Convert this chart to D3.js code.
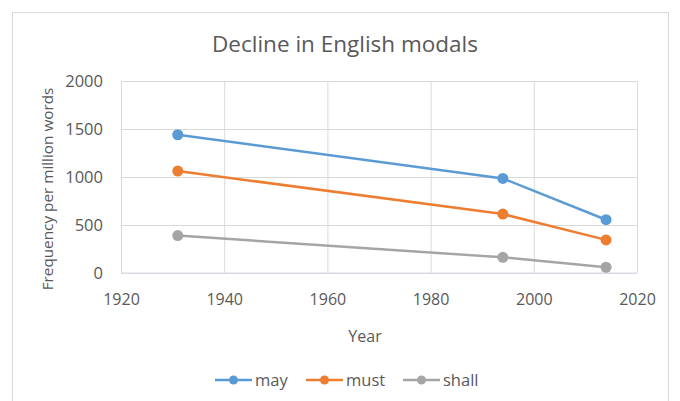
<!DOCTYPE html>
<html>
<head>
<meta charset="utf-8">
<script src="https://cdn.jsdelivr.net/npm/d3@7"></script>
<style>
  body { margin: 0; background: #fff; }
  text { font-family: "Open Sans", "Noto Sans", sans-serif; fill: #595959; }
</style>
</head>
<body>
<svg id="chart" width="680" height="401"></svg>
<script>
/* DATA */
const years = [1931, 1994, 2014];
const mayValues = [1440, 985, 555];
const mustValues = [1062, 614, 345];
const shallValues = [390, 163, 60];
const seriesNames = ["may", "must", "shall"];
const seriesColors = ["#5b9bd5", "#ed7d31", "#a5a5a5"];
const xTicks = [1920, 1940, 1960, 1980, 2000, 2020];
const yTicks = [0, 500, 1000, 1500, 2000];

const series = [mayValues, mustValues, shallValues].map((vals, i) => ({
  name: seriesNames[i],
  color: seriesColors[i],
  points: vals.map((v, j) => ({ year: years[j], value: v }))
}));

const margin = { top: 81, right: 43, bottom: 128, left: 121 };
const width = 680, height = 401;
const plotWidth = width - margin.left - margin.right;
const plotHeight = height - margin.top - margin.bottom;

const svg = d3.select("svg#chart");

// chart border
svg.append("rect")
  .attr("x", 12.5).attr("y", 12.5)
  .attr("width", 656).attr("height", 400)
  .attr("fill", "none").attr("stroke", "#d9d9d9");

const plotArea = svg.append("g")
  .attr("transform", "translate(" + margin.left + "," + margin.top + ")");

/* SCALES */
const xScale = d3.scaleLinear().domain([1920, 2020]).range([0, plotWidth]);
const yScale = d3.scaleLinear().domain([0, 2000]).range([plotHeight, 0]);

/* GRID */
const xGrid = d3.axisBottom(xScale).tickValues(xTicks).tickSize(-plotHeight).tickFormat("");
const yGrid = d3.axisLeft(yScale).tickValues(yTicks).tickSize(-plotWidth).tickFormat("");

plotArea.append("g").attr("transform", "translate(0," + plotHeight + ")").call(xGrid)
  .call(g => g.select(".domain").remove())
  .call(g => g.selectAll("line").attr("stroke", "#d9d9d9"));
plotArea.append("g").call(yGrid)
  .call(g => g.select(".domain").remove())
  .call(g => g.selectAll("line").attr("stroke", "#d9d9d9"));

// bottom axis line
plotArea.append("line")
  .attr("x1", 0).attr("x2", plotWidth)
  .attr("y1", plotHeight).attr("y2", plotHeight)
  .attr("stroke", "#d5dde8");

/* AXES LABELS */
const xAxis = d3.axisBottom(xScale).tickValues(xTicks).tickSize(0).tickPadding(21).tickFormat(d3.format("d"));
const yAxis = d3.axisLeft(yScale).tickValues(yTicks).tickSize(0).tickPadding(18).tickFormat(d3.format("d"));

plotArea.append("g").attr("transform", "translate(0," + plotHeight + ")").call(xAxis)
  .call(g => g.select(".domain").remove())
  .selectAll("text").attr("font-size", 16).attr("fill", "#595959")
  .attr("font-family", "Open Sans");
plotArea.append("g").call(yAxis)
  .call(g => g.select(".domain").remove())
  .selectAll("text").attr("font-size", 16.5).attr("fill", "#595959")
  .attr("font-family", "Open Sans");

/* TITLES */
svg.append("text")
  .attr("x", 345).attr("y", 52)
  .attr("text-anchor", "middle")
  .attr("font-size", 22.5)
  .text("Decline in English modals");

svg.append("text")
  .attr("x", 365).attr("y", 342)
  .attr("text-anchor", "middle")
  .attr("font-size", 16)
  .text("Year");

svg.append("g")
  .attr("transform", "translate(53," + (margin.top + plotHeight / 2 + 12) + ")")
  .append("text")
  .attr("transform", "rotate(-90)")
  .attr("text-anchor", "middle")
  .attr("font-size", 15.3)
  .text("Frequency per million words");

/* LINES */
const line = d3.line().x(d => xScale(d.year)).y(d => yScale(d.value));

const seriesGroups = plotArea.selectAll(".series")
  .data(series)
  .join("g").attr("class", "series");

seriesGroups.append("path")
  .attr("d", d => line(d.points))
  .attr("fill", "none")
  .attr("stroke", d => d.color)
  .attr("stroke-width", 2.5);

seriesGroups.selectAll("circle")
  .data(d => d.points.map(p => ({ ...p, color: d.color })))
  .join("circle")
  .attr("cx", d => xScale(d.year))
  .attr("cy", d => yScale(d.value))
  .attr("r", 5.5)
  .attr("fill", d => d.color);

/* LEGEND */
const legendX = [215, 306, 403];
const legend = svg.selectAll(".legend")
  .data(series)
  .join("g").attr("class", "legend")
  .attr("transform", (d, i) => "translate(" + legendX[i] + ",380)");

legend.append("line")
  .attr("x1", 0).attr("x2", 37).attr("y1", 0).attr("y2", 0)
  .attr("stroke", d => d.color).attr("stroke-width", 2.5);
legend.append("circle")
  .attr("cx", 18.5).attr("cy", 0).attr("r", 4.5)
  .attr("fill", d => d.color);
legend.append("text")
  .attr("x", 40).attr("y", 6)
  .attr("font-size", 16.5)
  .text(d => d.name);
</script>
</body>
</html>
